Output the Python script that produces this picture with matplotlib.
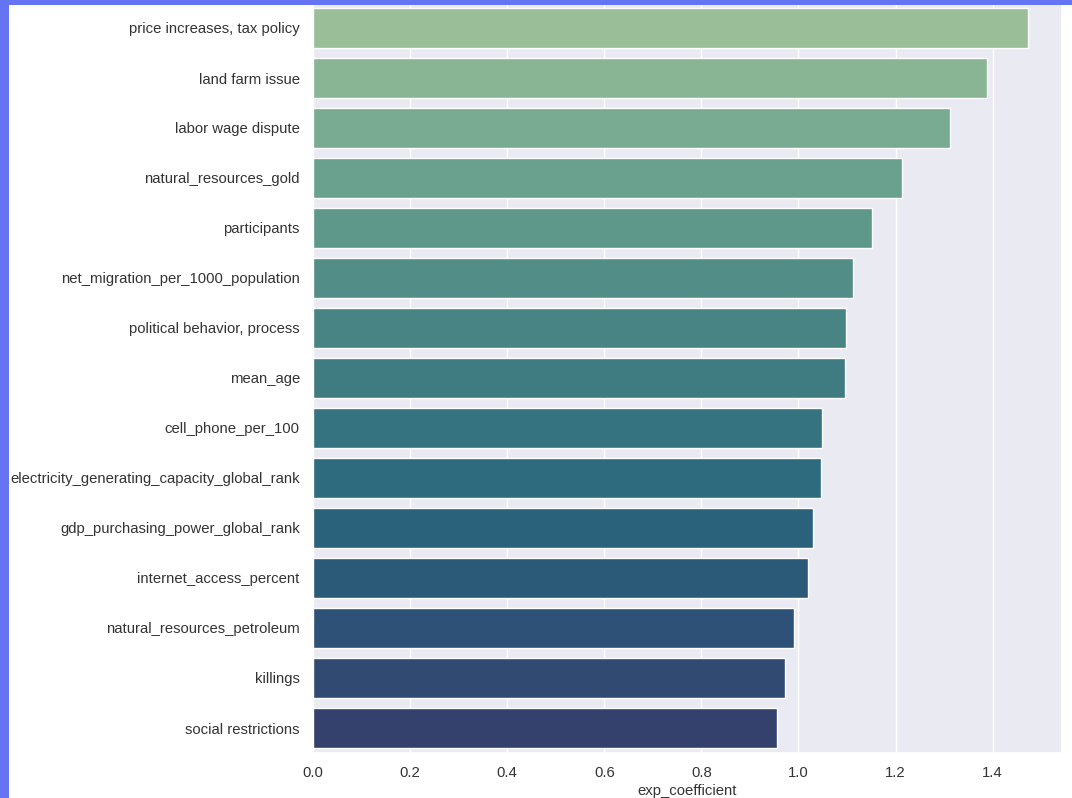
import matplotlib
matplotlib.use("Agg")
import matplotlib.pyplot as plt
import seaborn as sns
import pandas as pd

features = [
    "price increases, tax policy",
    "land farm issue",
    "labor wage dispute",
    "natural_resources_gold",
    "participants",
    "net_migration_per_1000_population",
    "political behavior, process",
    "mean_age",
    "cell_phone_per_100",
    "electricity_generating_capacity_global_rank",
    "gdp_purchasing_power_global_rank",
    "internet_access_percent",
    "natural_resources_petroleum",
    "killings",
    "social restrictions",
]
exp_coefficient = [1.472, 1.388, 1.313, 1.214, 1.151, 1.113, 1.097, 1.095,
                   1.049, 1.047, 1.031, 1.019, 0.990, 0.973, 0.956]

df = pd.DataFrame({"feature": features, "exp_coefficient": exp_coefficient})

sns.set_theme(style="darkgrid")
plt.rcParams["font.family"] = ["Liberation Sans", "DejaVu Sans"]

blue = "#6474f2"
fig = plt.figure(figsize=(10.72, 7.98), dpi=100)
fig.patch.set_facecolor("white")
# blue frame on the left and top edges
left_strip = plt.Rectangle((0, 0), 9 / 1072, 1, transform=fig.transFigure,
                           facecolor=blue, edgecolor="none", zorder=10)
top_strip = plt.Rectangle((0, 1 - 5 / 798), 1, 5 / 798, transform=fig.transFigure,
                          facecolor=blue, edgecolor="none", zorder=10)
fig.patches.extend([left_strip, top_strip])

ax = fig.add_axes([313 / 1072, 1 - 753 / 798, (1062 - 313) / 1072, (753 - 3) / 798])
sns.barplot(data=df, x="exp_coefficient", y="feature", hue="feature",
            palette=sns.color_palette("crest", len(features)), legend=False, ax=ax)
ax.set_ylabel("")
ax.set_xlabel("exp_coefficient", fontsize=10.7, color="#333333", labelpad=3)
ax.tick_params(axis="both", labelsize=10.7, colors="#333333")
ax.set_xlim(0, 1.543)

fig.savefig("out.png", dpi=100)
